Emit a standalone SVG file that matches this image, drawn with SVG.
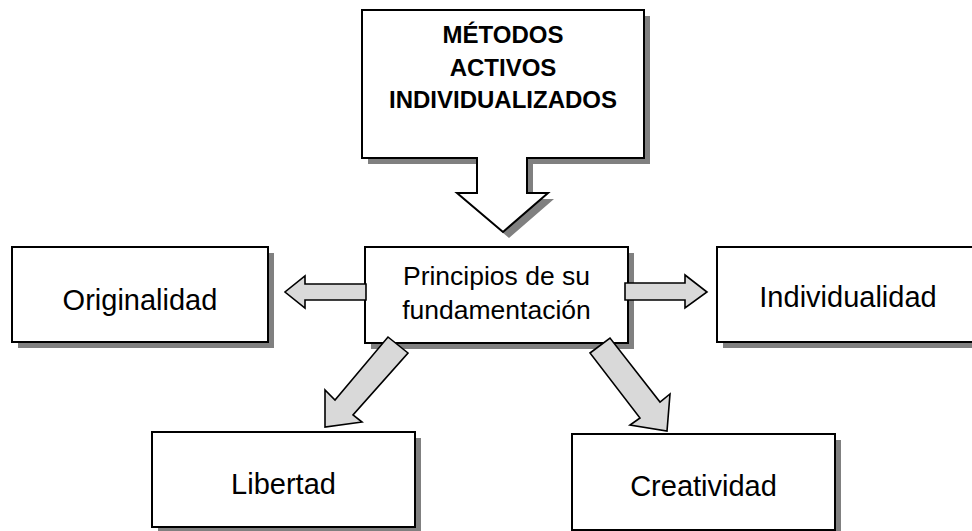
<svg xmlns="http://www.w3.org/2000/svg" width="972" height="531" viewBox="0 0 972 531">
<defs>
<style>
.shadow{fill:#808080;stroke:none}
.box{fill:#ffffff;stroke:#000000;stroke-width:2}
.arrow{fill:#d9d9d9;stroke:#000000;stroke-width:1.6;stroke-linejoin:miter}
.t{font-family:"Liberation Sans",Arial,sans-serif;fill:#000000;text-anchor:middle}
.big{font-size:29px}
.mid{font-size:26.5px}
.bold{font-size:24px;font-weight:bold}
</style>
</defs>
<rect width="972" height="531" fill="#ffffff"/>
<g id="node-metodos">
<path class="shadow" transform="translate(6,6)" d="M362,10 H644 V158 H527 V193 H548 L503,232 L457,193 H477 V158 H362 Z"/>
<path class="box" d="M362,10 H644 V158 H527 V193 H548 L503,232 L457,193 H477 V158 H362 Z"/>
<text class="t bold" x="503" y="43">MÉTODOS</text>
<text class="t bold" x="503" y="76">ACTIVOS</text>
<text class="t bold" x="503" y="108">INDIVIDUALIZADOS</text>
</g>
<g id="node-originalidad">
<rect class="shadow" x="18" y="253" width="256" height="95"/>
<rect class="box" x="12" y="247" width="256" height="95"/>
<text class="t big" x="140" y="310">Originalidad</text>
</g>
<g id="node-principios">
<rect class="shadow" x="371" y="253" width="263" height="96"/>
<rect class="box" x="365" y="247" width="263" height="96"/>
<text class="t mid" x="496.5" y="285">Principios de su</text>
<text class="t mid" x="496.5" y="319">fundamentación</text>
</g>
<g id="node-individualidad">
<rect class="shadow" x="723" y="253" width="263" height="95"/>
<rect class="box" x="717" y="247" width="263" height="95"/>
<text class="t big" x="848" y="307">Individualidad</text>
</g>
<g id="node-libertad">
<rect class="shadow" x="158" y="438" width="263" height="95"/>
<rect class="box" x="152" y="432" width="263" height="95"/>
<text class="t big" x="283.5" y="494">Libertad</text>
</g>
<g id="node-creatividad">
<rect class="shadow" x="578" y="440" width="263" height="96"/>
<rect class="box" x="572" y="434" width="263" height="96"/>
<text class="t big" x="703.5" y="496">Creatividad</text>
</g>
<g id="connectors">
<polygon class="arrow" points="366,284 305,284 305,276 285,292 305,308 305,300 366,300"/>
<polygon class="arrow" points="625,283 685,283 685,275 707,292 685,308 685,300 625,300"/>
<polygon class="arrow" points="388,337 408,353 353,415 362,422 325,427 325,390 335,400"/>
<polygon class="arrow" points="590,353 610,338 660,402 670,394 667,431 630,425 640,418"/>
</g>
</svg>
